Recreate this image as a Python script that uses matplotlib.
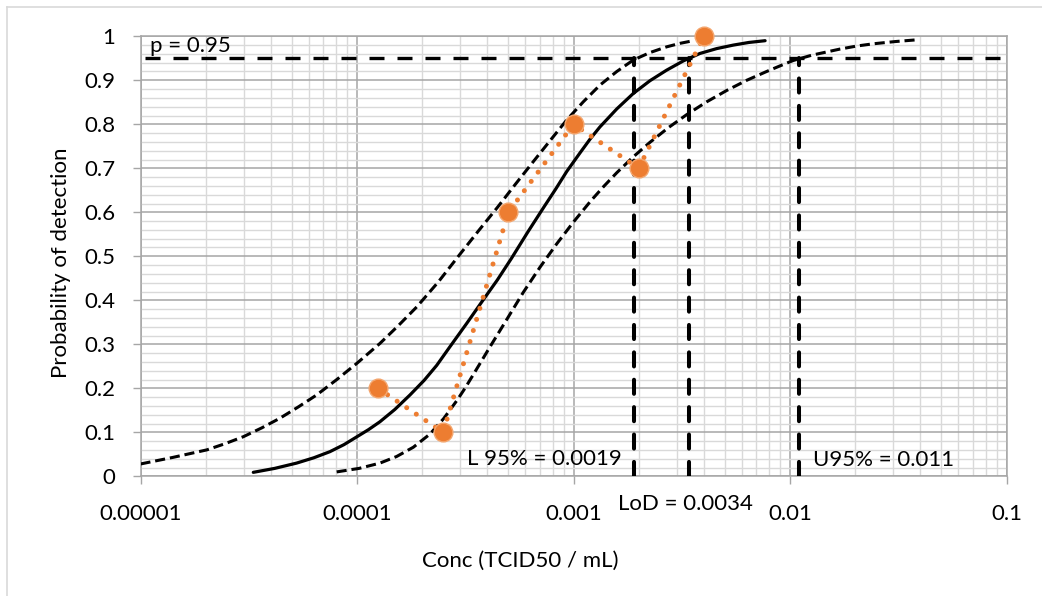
import numpy as np
import matplotlib
matplotlib.use("Agg")
import matplotlib.pyplot as plt
from matplotlib.ticker import FixedLocator, LogLocator, MultipleLocator, NullFormatter

plt.rcParams['font.family'] = ['Lato', 'DejaVu Sans']

# observed hit rates
obs_conc = [1.25e-4, 2.5e-4, 5e-4, 1e-3, 2e-3, 4e-3]
obs_prob = [0.2, 0.1, 0.6, 0.8, 0.7, 1.0]

# fitted curve (log10 of concentration)
fit_logc = [-4.479, -4.38, -4.279, -4.20, -4.125, -4.06, -4.0, -3.947, -3.894, -3.825,
            -3.755, -3.69, -3.632, -3.570, -3.494, -3.417, -3.352, -3.287, -3.21, -3.134,
            -3.082, -3.031, -2.970, -2.924, -2.878, -2.80, -2.724, -2.647, -2.570, -2.493,
            -2.416, -2.339, -2.262, -2.19, -2.115]
fit_prob = [0.009, 0.018, 0.030, 0.042, 0.056, 0.072, 0.090, 0.106, 0.124, 0.152,
            0.185, 0.218, 0.252, 0.295, 0.347, 0.401, 0.446, 0.495, 0.556, 0.614,
            0.653, 0.693, 0.735, 0.766, 0.794, 0.835, 0.870, 0.899, 0.923, 0.944,
            0.961, 0.972, 0.980, 0.986, 0.990]

# upper confidence band (left dashed curve)
upper_logc = [-5.0, -4.85, -4.694, -4.61, -4.525, -4.44, -4.356, -4.27, -4.186, -4.093,
              -4.0, -3.894, -3.81, -3.724, -3.624, -3.524, -3.437, -3.35, -3.268, -3.186,
              -3.108, -3.031, -2.955, -2.878, -2.80, -2.724, -2.647, -2.570, -2.508, -2.447]
upper_prob = [0.028, 0.043, 0.060, 0.074, 0.090, 0.110, 0.132, 0.158, 0.185, 0.220,
              0.257, 0.302, 0.342, 0.385, 0.442, 0.505, 0.559, 0.612, 0.664, 0.715,
              0.763, 0.810, 0.851, 0.889, 0.920, 0.946, 0.963, 0.976, 0.984, 0.990]

# lower confidence band (right dashed curve)
lower_logc = [-4.094, -3.99, -3.894, -3.817, -3.74, -3.663, -3.60, -3.539, -3.50, -3.463,
              -3.425, -3.386, -3.31, -3.232, -3.155, -3.078, -3.0, -2.92, -2.86, -2.80,
              -2.724, -2.647, -2.56, -2.477, -2.385, -2.292, -2.20, -2.108, -2.045, -1.985,
              -1.90, -1.769, -1.69, -1.615, -1.515, -1.415]
lower_prob = [0.010, 0.018, 0.030, 0.045, 0.066, 0.096, 0.131, 0.172, 0.201, 0.231,
              0.262, 0.294, 0.355, 0.418, 0.475, 0.528, 0.578, 0.626, 0.659, 0.690,
              0.726, 0.759, 0.793, 0.822, 0.851, 0.877, 0.900, 0.920, 0.933, 0.945,
              0.957, 0.971, 0.978, 0.983, 0.988, 0.992]

p_level = 0.95
p_line_conc = [1.05e-5, 0.1]
limit_conc = [0.0019, 0.0034, 0.011]

x_ticks = [1e-5, 1e-4, 1e-3, 1e-2, 1e-1]
x_ticklabels = ['0.00001', '0.0001', '0.001', '0.01', '0.1']
y_ticks = [0, 0.1, 0.2, 0.3, 0.4, 0.5, 0.6, 0.7, 0.8, 0.9, 1.0]
y_ticklabels = ['0', '0.1', '0.2', '0.3', '0.4', '0.5', '0.6', '0.7', '0.8', '0.9', '1']

W, H = 1042, 596
fig = plt.figure(figsize=(W / 100, H / 100), dpi=100)
ax = fig.add_axes([140.5 / W, 1 - 476.3 / H, 866 / W, 440 / H])

ax.set_xscale('log')
ax.set_xlim(1e-5, 0.1)
ax.set_ylim(0, 1)

ax.xaxis.set_major_locator(FixedLocator(x_ticks))
ax.set_xticklabels(x_ticklabels)
ax.xaxis.set_minor_locator(LogLocator(base=10, subs=np.arange(2, 10)))
ax.xaxis.set_minor_formatter(NullFormatter())
ax.set_yticks(y_ticks)
ax.set_yticklabels(y_ticklabels)
ax.yaxis.set_minor_locator(MultipleLocator(0.02))

ax.tick_params(which='major', direction='out', color='#A6A6A6', length=6, width=1,
               labelsize=16)
ax.tick_params(axis='x', which='major', pad=14)
ax.tick_params(axis='y', which='major', pad=12)
ax.tick_params(which='minor', length=0)

ax.grid(which='major', color='#A6A6A6', lw=1.1)
ax.grid(which='minor', color='#D9D9D9', lw=1.0)
ax.set_axisbelow(True)
for s in ax.spines.values():
    s.set_color('#A6A6A6')
    s.set_linewidth(1.1)

# curves
dash_curve = (0, (3.3, 1.6))
ax.plot(10 ** np.array(upper_logc), upper_prob, color='black', lw=2.2, ls=dash_curve, zorder=3)
ax.plot(10 ** np.array(lower_logc), lower_prob, color='black', lw=2.2, ls=dash_curve, zorder=3)
ax.plot(10 ** np.array(fit_logc), fit_prob, color='black', lw=2.3,
        solid_capstyle='round', solid_joinstyle='round', zorder=3)

# p = 0.95 line and limits
ax.plot(p_line_conc, [p_level, p_level], color='black', lw=2.4, ls=(0, (4.5, 3.9)), zorder=3)
for c in limit_conc:
    ax.plot([c, c], [0, p_level], color='black', lw=2.9, ls=(0, (3.5, 3.3)),
            dash_capstyle='round', zorder=3)

# observations
ax.plot(obs_conc, obs_prob, color='#ED7D31', lw=3.6, ls=(0, (0.01, 2.3)),
        dash_capstyle='round', zorder=4, clip_on=False)
ax.plot(obs_conc, obs_prob, ls='none', marker='o', ms=13.5, color='#ED7D31',
        mec='#F4A66E', mew=1, zorder=5, clip_on=False)

# annotations
def ftext(x, y, s, **kw):
    fig.text(x / W, 1 - y / H, s, fontsize=16, va='baseline', **kw)

ftext(150, 52, 'p = 0.95')
ftext(467, 465, 'L 95% = 0.0019')
ftext(813, 465.5, 'U95% = 0.011')
ftext(618, 510.5, 'LoD = 0.0034')

fig.text(520 / W, 1 - 561 / H, 'Conc (TCID50 / mL)', fontsize=16, ha='center', va='center')
fig.text(61 / W, 1 - 263 / H, 'Probability of detection', fontsize=16, ha='center',
         va='center', rotation=90)

# chart frame
fig.add_artist(plt.Line2D([7 / W, 7 / W], [0, 1 - 7 / H], color='#D9D9D9', lw=1.2))
fig.add_artist(plt.Line2D([7 / W, 1], [1 - 7 / H, 1 - 7 / H], color='#D9D9D9', lw=1.2))

fig.savefig('out.png', dpi=100)
